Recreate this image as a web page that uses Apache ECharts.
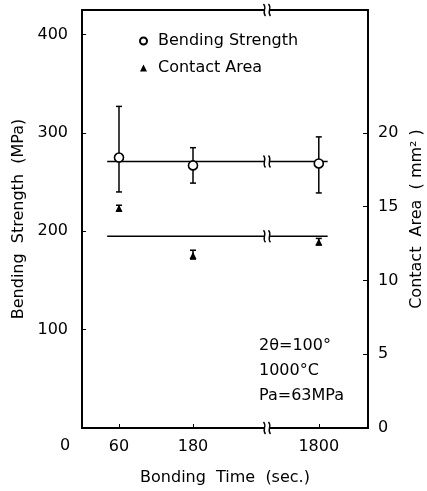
<!DOCTYPE html>
<html>
<head>
<meta charset="utf-8">
<script src="https://cdn.jsdelivr.net/npm/echarts@6/dist/echarts.min.js"></script>
<style>
  html, body { margin: 0; padding: 0; background: #fff; }
  #main { width: 427px; height: 491px; }
</style>
</head>
<body>
<div id="main"></div>
<script>
  // bonding time, placed on a broken axis (break between 180 and 1800)
  var timeLabels = ['60', '180', '1800'];
  var timePos = [0.5, 1.5, 3.2];
  var breakPos = 2.5;

  // bending strength (MPa)
  var strength = [275, 267, 269];
  var strengthLow = [240, 249, 239];
  var strengthHigh = [327, 285, 296];
  var strengthFit = 271;

  // contact area (mm2)
  var area = [14.9, 11.7, 12.6];
  var areaLow = [14.7, 11.45, 12.4];
  var areaHigh = [15.1, 12.05, 12.85];
  var areaFit = 13.0;
  var fitRange = [0.34, 3.32];

  var strengthTicks = [100, 200, 300, 400];
  var areaTicks = [0, 5, 10, 15, 20];

  var font = 'DejaVu Sans';
  var chart = echarts.init(document.getElementById('main'));

  function errBar(params, api) {
    var x = api.value(0);
    var lo = api.coord([x, api.value(1)]);
    var hi = api.coord([x, api.value(2)]);
    var c = 3;
    var st = { stroke: '#000', lineWidth: 1.5 };
    return {
      type: 'group',
      children: [
        { type: 'line', shape: { x1: lo[0], y1: lo[1], x2: hi[0], y2: hi[1] }, style: st },
        { type: 'line', shape: { x1: lo[0] - c, y1: lo[1], x2: lo[0] + c, y2: lo[1] }, style: st },
        { type: 'line', shape: { x1: hi[0] - c, y1: hi[1], x2: hi[0] + c, y2: hi[1] }, style: st }
      ]
    };
  }

  function breakMark(params, api) {
    var p = api.coord([api.value(0), api.value(1)]);
    var st = { stroke: '#000', fill: null, lineWidth: 1.4 };
    function s(dx) {
      return {
        type: 'bezierCurve',
        shape: {
          x1: p[0] + dx - 1, y1: p[1] - 6,
          cpx1: p[0] + dx + 3, cpy1: p[1] - 2,
          cpx2: p[0] + dx - 3, cpy2: p[1] + 2,
          x2: p[0] + dx + 1, y2: p[1] + 6
        },
        style: st
      };
    }
    return {
      type: 'group',
      children: [
        { type: 'rect', shape: { x: p[0] - 3, y: p[1] - 3, width: 6, height: 6 }, style: { fill: '#fff' } },
        s(-2.5),
        s(2.5)
      ]
    };
  }

  var option = {
    backgroundColor: '#fff',
    animation: false,
    textStyle: { fontFamily: font, color: '#000' },
    grid: {
      left: 82, top: 10, width: 286, height: 418,
      outerBoundsMode: 'none',
      show: true, borderColor: '#000', borderWidth: 1.8, backgroundColor: 'transparent'
    },
    legend: {
      orient: 'vertical',
      left: 139, top: 33, padding: 0,
      itemWidth: 7, itemHeight: 7, itemGap: 11,
      data: ['Bending Strength', 'Contact Area'],
      textStyle: { fontFamily: font, fontSize: 16, color: '#000', padding: [0, 0, 0, 6] }
    },
    xAxis: {
      type: 'value',
      min: 0, max: 3.865,
      name: 'Bonding  Time  (sec.)',
      nameLocation: 'middle',
      nameGap: 42,
      nameTextStyle: { fontSize: 16, color: '#000', fontFamily: font },
      axisLine: { show: true, lineStyle: { color: '#000', width: 1.8 } },
      axisTick: { show: true, inside: true, length: 4, customValues: timePos, lineStyle: { color: '#000' } },
      axisLabel: {
        customValues: timePos,
        margin: 11, fontSize: 16, color: '#000', fontFamily: font,
        formatter: function (v) {
          var i = timePos.indexOf(v);
          return i >= 0 ? timeLabels[i] : '';
        }
      },
      splitLine: { show: false }
    },
    yAxis: [{
      type: 'value',
      min: 0, max: 425,
      position: 'left',
      name: 'Bending  Strength  (MPa)',
      nameLocation: 'middle',
      nameRotate: 90,
      nameGap: 46,
      nameTextStyle: { fontSize: 16, color: '#000', fontFamily: font },
      axisLine: { show: true, lineStyle: { color: '#000', width: 1.8 } },
      axisTick: { show: true, inside: true, length: 4, customValues: strengthTicks, lineStyle: { color: '#000' } },
      axisLabel: { customValues: strengthTicks, margin: 14, fontSize: 16, color: '#000', fontFamily: font },
      splitLine: { show: false }
    }, {
      type: 'value',
      min: 0, max: 425 / 15,
      position: 'right',
      name: 'Contact  Area  ( mm² )',
      nameLocation: 'middle',
      nameRotate: 90,
      nameGap: 34,
      nameTextStyle: { fontSize: 16, color: '#000', fontFamily: font },
      axisLine: { show: true, lineStyle: { color: '#000', width: 1.8 } },
      axisTick: { show: true, inside: true, length: 5, customValues: areaTicks, lineStyle: { color: '#000' } },
      axisLabel: { customValues: areaTicks, margin: 10, fontSize: 16, color: '#000', fontFamily: font },
      splitLine: { show: false }
    }],
    graphic: [
      { type: 'text', left: 60, top: 438, style: { text: '0', font: '16px "DejaVu Sans"', fill: '#000' } },
      { type: 'text', left: 259, top: 338, style: { text: '2θ=100°', font: '16px "DejaVu Sans"', fill: '#000' } },
      { type: 'text', left: 259, top: 363, style: { text: '1000°C', font: '16px "DejaVu Sans"', fill: '#000' } },
      { type: 'text', left: 259, top: 388, style: { text: 'Pa=63MPa', font: '16px "DejaVu Sans"', fill: '#000' } }
    ],
    series: [
      {
        name: 'strength fit', type: 'line', yAxisIndex: 0, symbol: 'none', silent: true,
        lineStyle: { color: '#000', width: 1.6 },
        data: [[fitRange[0], strengthFit], [fitRange[1], strengthFit]]
      },
      {
        name: 'area fit', type: 'line', yAxisIndex: 1, symbol: 'none', silent: true,
        lineStyle: { color: '#000', width: 1.6 },
        data: [[fitRange[0], areaFit], [fitRange[1], areaFit]]
      },
      {
        name: 'strength err', type: 'custom', yAxisIndex: 0, renderItem: errBar, z: 3,
        data: timePos.map(function (x, i) { return [x, strengthLow[i], strengthHigh[i]]; })
      },
      {
        name: 'area err', type: 'custom', yAxisIndex: 1, renderItem: errBar, z: 3,
        data: timePos.map(function (x, i) { return [x, areaLow[i], areaHigh[i]]; })
      },
      {
        name: 'Bending Strength', type: 'scatter', yAxisIndex: 0, symbol: 'circle', symbolSize: 9, z: 5,
        itemStyle: { color: '#fff', borderColor: '#000', borderWidth: 1.6, opacity: 1 },
        data: timePos.map(function (x, i) { return [x, strength[i]]; })
      },
      {
        name: 'Contact Area', type: 'scatter', yAxisIndex: 1, symbol: 'triangle', symbolSize: 7, z: 5,
        itemStyle: { color: '#000', opacity: 1 },
        data: timePos.map(function (x, i) { return [x, area[i]]; })
      },
      {
        name: 'breaks', type: 'custom', yAxisIndex: 0, renderItem: breakMark, z: 10, silent: true,
        data: [[breakPos, 425], [breakPos, 0], [breakPos, strengthFit]]
      },
      {
        name: 'breaks2', type: 'custom', yAxisIndex: 1, renderItem: breakMark, z: 10, silent: true,
        data: [[breakPos, areaFit]]
      }
    ]
  };

  chart.setOption(option);
</script>
</body>
</html>
